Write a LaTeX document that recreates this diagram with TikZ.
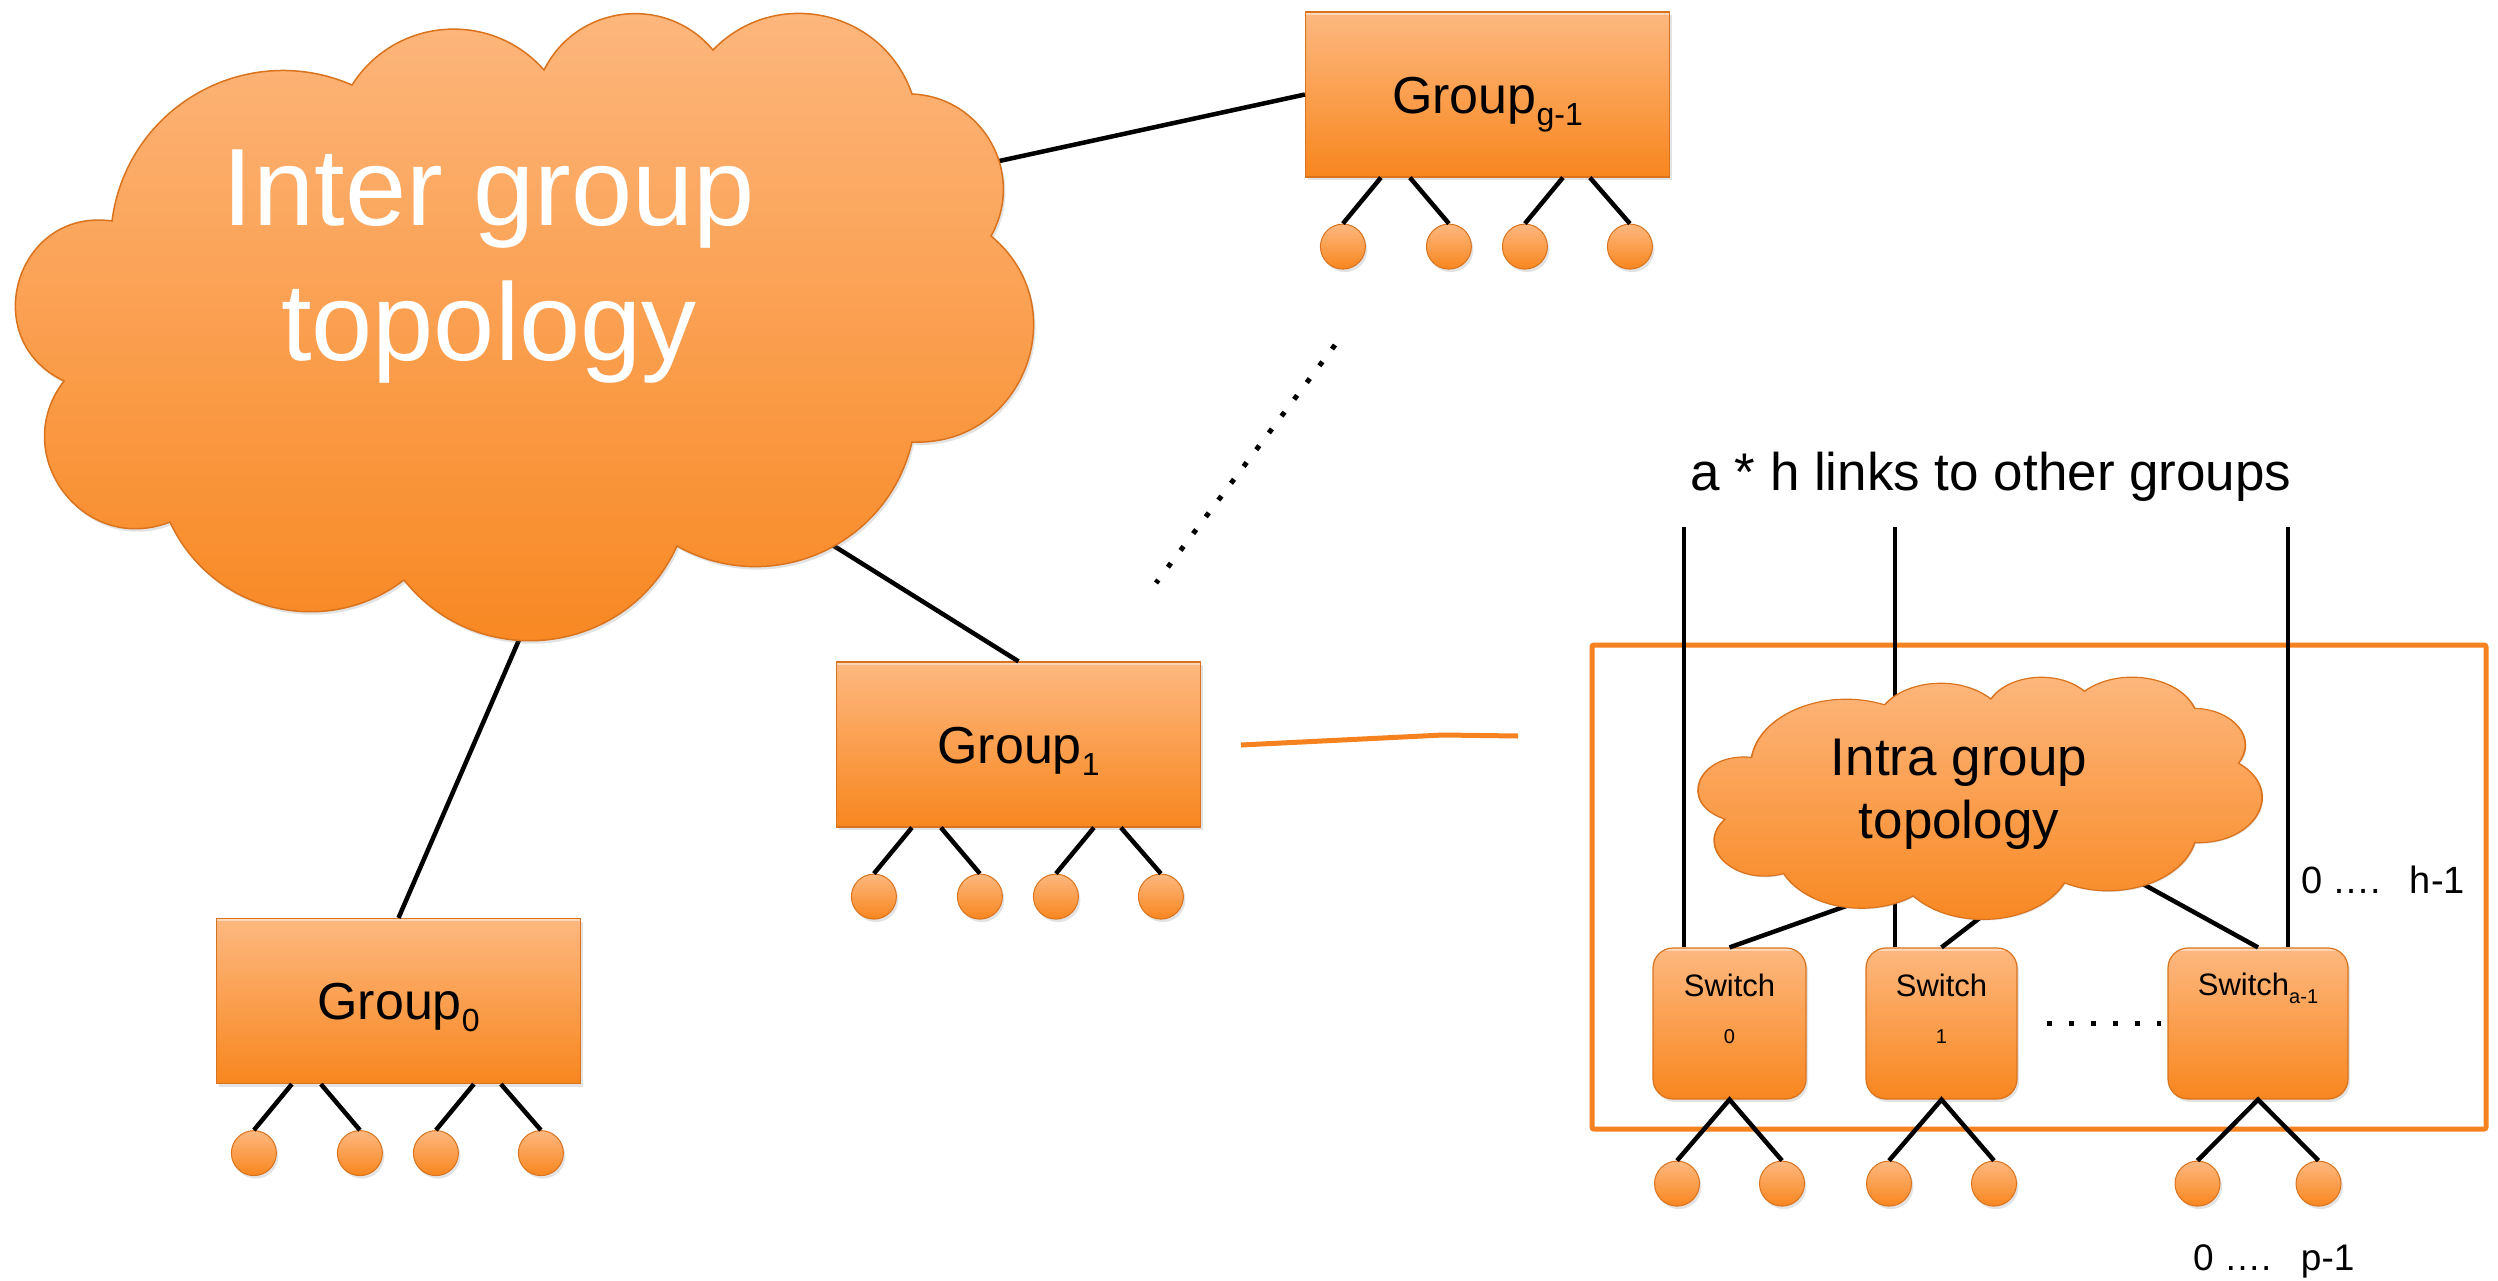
\documentclass[tikz,border=0pt]{standalone}
\usepackage{fontspec}
\setmainfont{Liberation Sans}
\usetikzlibrary{calc,shadows}

\definecolor{orangetop}{HTML}{FDB880}
\definecolor{orangebot}{HTML}{F8861E}
\definecolor{orangerim}{HTML}{D9731E}
\definecolor{framecol}{HTML}{F5821F}

% lowered index set in a smaller size
\newcommand\lowidx[3]{\raisebox{-#1}{\fontsize{#2}{#2}\selectfont #3}}

% one round puff of a cloud outline, from #1 to #2:
% handle length #3 (share of the chord) leaving at #4 degrees from the chord
\newcommand\puff[4]{.. controls ($(#1)!#3!#4:(#2)$) and ($(#2)!#3!-#4:(#1)$) .. (#2)}

% cloud outline filling the box from (19,13) to (1028,637); #2 = extra path options
\newcommand\cloudoutline[2]{%
  \coordinate (#1-1)  at (112,221);
  \coordinate (#1-2)  at (352,85);
  \coordinate (#1-3)  at (544,70);
  \coordinate (#1-4)  at (713,50);
  \coordinate (#1-5)  at (912,94);
  \coordinate (#1-6)  at (991,236);
  \coordinate (#1-7)  at (912,442);
  \coordinate (#1-8)  at (677,546);
  \coordinate (#1-9)  at (404,580);
  \coordinate (#1-10) at (170,522);
  \coordinate (#1-11) at (64,381);
  \path[cloudstyle, #2] (#1-1)
    \puff{#1-1}{#1-2}{0.417}{53.1}  \puff{#1-2}{#1-3}{0.417}{53.1}
    \puff{#1-3}{#1-4}{0.431}{56.7}  \puff{#1-4}{#1-5}{0.438}{58.5}
    \puff{#1-5}{#1-6}{0.438}{58.5}  \puff{#1-6}{#1-7}{0.506}{71.5}
    \puff{#1-7}{#1-8}{0.417}{53.1}  \puff{#1-8}{#1-9}{0.438}{58.5}
    \puff{#1-9}{#1-10}{0.410}{51.3} \puff{#1-10}{#1-11}{0.526}{74.5}
    \puff{#1-11}{#1-1}{0.580}{81.4} -- cycle;
}

% a group box with its four hosts
\newcommand\groupunit[4]{%
  \node[groupbox] (#1) at (#2,#3) {#4};
  \foreach \i/\hx/\lx in {1/38/76, 2/144/105, 3/220/258, 4/325/285} {
    \node[host] (#1-h\i) at ($(#1.south west)+(\hx,69)$) {};
    \draw[link] ($(#1.south west)+(\lx,0)$) -- (#1-h\i.north);
  }
}

% a switch with two hosts, #2 = half distance of the hosts
\newcommand\switchhosts[2]{%
  \node[host] (#1-h1) at ($(#1.south)+(-#2,84)$) {};
  \node[host] (#1-h2) at ($(#1.south)+(#2,84)$) {};
  \draw[link] (#1-h1.north) -- (#1.south) -- (#1-h2.north);
}

\begin{document}
\begin{tikzpicture}[x=1pt, y=-1pt,
  link/.style={line width=4.5pt, black},
  orangeshade/.style={top color=orangetop, bottom color=orangebot},
  softshadow/.style={drop shadow={opacity=0.22, shadow xshift=2pt, shadow yshift=-3pt}},
  tophighlight/.style={path picture={
    \draw[white, opacity=0.45, line width=5pt]
      (path picture bounding box.north west) -- (path picture bounding box.north east);}},
  cloudstyle/.style={orangeshade, draw=orangerim, line width=1.5pt, softshadow},
  groupbox/.style={orangeshade, draw=orangerim, line width=1.2pt, softshadow, tophighlight,
    minimum width=364pt, minimum height=165pt, inner sep=0pt,
    text height=37pt, text depth=0pt, font=\fontsize{52}{62}\selectfont},
  switchbox/.style={orangeshade, draw=orangerim, line width=1.2pt, softshadow, tophighlight,
    rounded corners=20pt, minimum height=151pt, inner sep=0pt},
  host/.style={circle, orangeshade, draw=orangerim, line width=1pt, softshadow,
    minimum size=45pt, inner sep=0pt},
  label/.style={inner sep=0pt, anchor=base}
]
\useasboundingbox (0,0) rectangle (2498,1280);

% ---------------- groups and the inter group topology ----------------
\groupunit{gg}{1487.5}{94.5}{Group\lowidx{12pt}{32}{g-1}}
\groupunit{g1}{1018.5}{744.5}{Group\lowidx{12pt}{32}{1}}
\groupunit{g0}{398.5}{1001}{Group\lowidx{12pt}{32}{0}}

\coordinate (inter-a) at (990,163);
\coordinate (inter-b) at (818,536);
\coordinate (inter-c) at (525,626);
\draw[link] (inter-a) -- (gg.west);
\draw[link] (inter-b) -- (g1.north);
\draw[link] (inter-c) -- (g0.north);

\cloudoutline{inter}{}
\node[label, text=white, font=\fontsize{110}{132}\selectfont] (inter-l1) at (489,225) {Inter group};
\node[label, text=white, font=\fontsize{110}{132}\selectfont] (inter-l2) at (489,360) {topology};

% more groups in between
\coordinate (more-a) at (1335,345);
\coordinate (more-b) at (1156,583);
\draw[line width=5pt, dash pattern=on 5pt off 16pt] (more-a) -- (more-b);

% link from group 1 to its detailed view
\coordinate (zoom-a) at (1241,745);
\coordinate (zoom-b) at (1443,735);
\coordinate (zoom-c) at (1518,736);
\draw[framecol, line width=5pt] (zoom-a) -- (zoom-b) -- (zoom-c);

% ---------------- inside a group ----------------
\node[draw=framecol, line width=5pt, rounded corners=2pt, minimum width=894pt,
  minimum height=484pt] (frame) at (2039,887) {};

\node[switchbox, minimum width=153pt] (sw0) at (1729.5,1023.5) {};
\node[switchbox, minimum width=151pt] (sw1) at (1941.5,1023.5) {};
\node[switchbox, minimum width=180pt] (swa) at (2258,1023.5) {};

\coordinate (up0) at (1684,527);
\coordinate (up1) at (1895,527);
\coordinate (upa) at (2288,527);
\draw[link] (up0) -- (up0 |- sw0.north);
\draw[link] (up1) -- (up1 |- sw1.north);
\draw[link] (upa) -- (upa |- swa.north);

\coordinate (intra-a) at (1866,899);
\coordinate (intra-b) at (1990,910);
\coordinate (intra-c) at (2132,878);
\draw[link] (sw0.north) -- (intra-a);
\draw[link] (sw1.north) -- (intra-b);
\draw[link] (swa.north) -- (intra-c);

% the same cloud, squeezed into the box from (1700,677) to (2259,918)
\begin{scope}[transform canvas={shift={(1689.47pt,-671.98pt)}, xscale=0.554, yscale=0.3862}]
  \cloudoutline{intra}{line width=3pt}
\end{scope}
\node[label, font=\fontsize{53}{64}\selectfont] (intra-l1) at (1959,775) {Intra group};
\node[label, font=\fontsize{53}{64}\selectfont] (intra-l2) at (1959,838) {topology};

\node[label, font=\fontsize{31}{37}\selectfont] (sw0-name) at (1729.5,996) {Switch};
\node[label, font=\fontsize{20}{24}\selectfont] (sw0-idx) at (1729.5,1043) {0};
\node[label, font=\fontsize{31}{37}\selectfont] (sw1-name) at (1941.5,996) {Switch};
\node[label, font=\fontsize{20}{24}\selectfont] (sw1-idx) at (1941.5,1043) {1};
\node[label, font=\fontsize{31}{37}\selectfont] (swa-name) at (2258,995) {Switch\lowidx{8pt}{20}{a-1}};

\draw[line width=5pt, dash pattern=on 5pt off 17pt]
  ($(sw1.east)+(29,0)$) -- ($(swa.west)+(-6,0)$);

\switchhosts{sw0}{52.5}
\switchhosts{sw1}{52.5}
\switchhosts{swa}{60.5}

% ---------------- annotations ----------------
\node[label, font=\fontsize{53}{64}\selectfont] (links) at (1991,490) {a * h links to other groups};
\node[label, anchor=base west, font=\fontsize{38}{46}\selectfont] (hrange) at (2301,893) {0 ….\hspace{0.75em}h-1};
\node[label, anchor=base west, font=\fontsize{37}{44}\selectfont] (prange) at (2193,1270) {0 ….\hspace{0.8em}p-1};
\end{tikzpicture}
\end{document}
